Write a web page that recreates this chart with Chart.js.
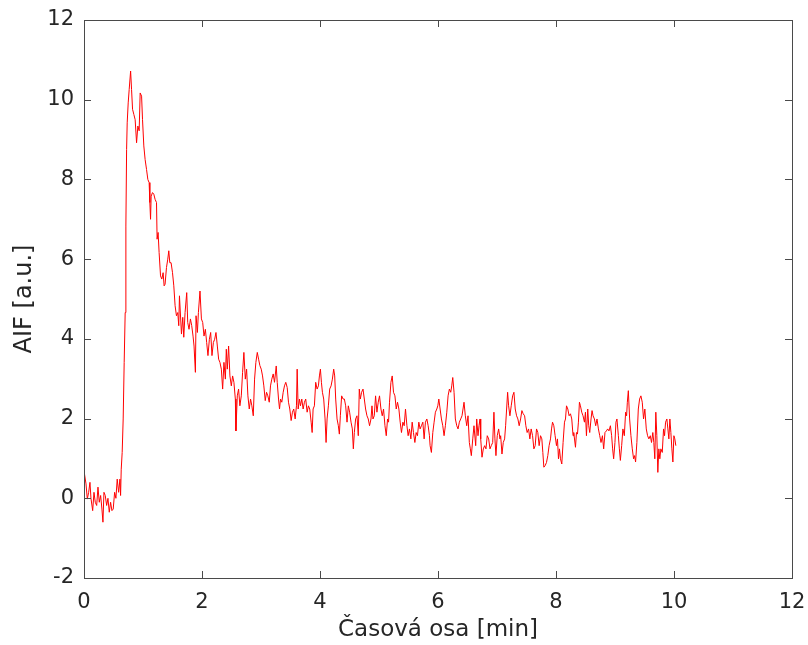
<!DOCTYPE html>
<html>
<head>
<meta charset="utf-8">
<script src="https://cdn.jsdelivr.net/npm/chart.js@4/dist/chart.umd.min.js"></script>
<style>
  body { margin: 0; background: #fff; }
  canvas { display: block; }
</style>
</head>
<body>
<canvas id="mycanvas" width="808" height="645"></canvas>
<script>
// casova osa [min]
var timeMin = [
  0.000,0.034,0.056,0.079,0.101,0.118,0.147,0.169,0.191,0.215,0.237,0.259,0.282,0.304,0.321,0.338,0.360,0.384,0.406,0.428,
  0.451,0.473,0.495,0.519,0.541,0.563,0.587,0.609,0.620,0.631,0.647,0.664,0.681,0.698,0.710,0.722,0.732,0.749,0.766,0.790,
  0.806,0.823,0.845,0.867,0.891,0.913,0.935,0.952,0.976,0.992,1.014,1.036,1.060,1.082,1.104,1.116,1.128,1.138,1.161,1.183,
  1.205,1.229,1.239,1.256,1.273,1.297,1.319,1.341,1.358,1.374,1.398,1.420,1.437,1.454,1.476,1.500,1.522,1.544,1.567,1.589,
  1.606,1.618,1.652,1.674,1.691,1.713,1.741,1.758,1.780,1.804,1.826,1.848,1.865,1.888,1.899,1.922,1.939,1.966,1.990,2.012,
  2.034,2.057,2.079,2.101,2.125,2.147,2.169,2.193,2.215,2.237,2.260,2.282,2.304,2.328,2.350,2.372,2.396,2.412,2.429,2.451,
  2.473,2.497,2.519,2.541,2.565,2.575,2.598,2.620,2.642,2.666,2.688,2.710,2.734,2.756,2.778,2.801,2.823,2.845,2.869,2.891,
  2.913,2.937,2.959,2.981,3.004,3.026,3.048,3.072,3.094,3.116,3.140,3.161,3.183,3.207,3.229,3.258,3.275,3.297,3.314,3.331,
  3.353,3.376,3.398,3.420,3.444,3.466,3.488,3.511,3.533,3.555,3.579,3.601,3.613,3.630,3.652,3.669,3.691,3.714,3.736,3.758,
  3.782,3.804,3.826,3.850,3.867,3.883,3.905,3.927,3.951,3.973,3.990,4.007,4.024,4.041,4.063,4.086,4.103,4.120,4.142,4.164,
  4.188,4.210,4.232,4.249,4.266,4.289,4.311,4.328,4.345,4.367,4.391,4.413,4.435,4.458,4.480,4.502,4.526,4.548,4.565,4.582,
  4.604,4.627,4.649,4.666,4.683,4.705,4.729,4.751,4.773,4.796,4.818,4.840,4.864,4.881,4.898,4.920,4.942,4.965,4.987,5.009,
  5.033,5.055,5.077,5.101,5.123,5.145,5.162,5.178,5.202,5.224,5.246,5.270,5.292,5.314,5.337,5.359,5.381,5.405,5.427,5.449,
  5.473,5.494,5.516,5.540,5.562,5.584,5.608,5.630,5.652,5.675,5.697,5.719,5.743,5.765,5.787,5.811,5.833,5.855,5.866,5.888,
  5.912,5.934,5.956,5.980,5.997,6.014,6.036,6.058,6.081,6.103,6.125,6.149,6.171,6.193,6.216,6.233,6.250,6.272,6.294,6.318,
  6.340,6.362,6.385,6.407,6.424,6.441,6.463,6.487,6.509,6.531,6.548,6.565,6.589,6.610,6.639,6.656,6.678,6.695,6.712,6.724,
  6.746,6.768,6.791,6.813,6.835,6.859,6.881,6.903,6.927,6.948,6.965,6.982,7.004,7.028,7.050,7.062,7.084,7.106,7.129,7.146,
  7.163,7.180,7.197,7.219,7.241,7.265,7.287,7.309,7.332,7.354,7.376,7.400,7.422,7.444,7.468,7.489,7.511,7.535,7.557,7.579,
  7.603,7.625,7.647,7.670,7.692,7.714,7.738,7.760,7.777,7.794,7.816,7.839,7.861,7.883,7.907,7.924,7.941,7.963,7.985,8.008,
  8.025,8.042,8.059,8.076,8.098,8.120,8.144,8.161,8.178,8.200,8.222,8.245,8.267,8.289,8.301,8.330,8.347,8.364,8.380,8.397,
  8.414,8.436,8.458,8.482,8.499,8.516,8.538,8.555,8.572,8.594,8.611,8.628,8.651,8.673,8.695,8.719,8.741,8.763,8.787,8.808,
  8.830,8.854,8.876,8.898,8.922,8.943,8.960,8.977,8.999,9.016,9.033,9.057,9.074,9.091,9.113,9.134,9.158,9.180,9.197,9.209,
  9.226,9.248,9.270,9.293,9.315,9.332,9.349,9.371,9.395,9.417,9.439,9.462,9.484,9.506,9.530,9.552,9.574,9.598,9.619,9.641,
  9.658,9.675,9.692,9.709,9.726,9.743,9.760,9.777,9.801,9.823,9.840,9.857,9.879,9.896,9.913,9.930,9.947,9.964,9.981,9.998,
  10.014,10.031
];
// AIF [a.u.]
var aif = [
  0.69,0.36,-0.02,0.15,0.40,0.00,-0.31,0.15,-0.10,-0.18,0.28,-0.10,0.07,-0.27,-0.60,0.15,0.07,-0.18,0.00,-0.35,
  -0.10,-0.31,-0.27,0.15,0.00,0.48,0.15,0.48,0.07,0.73,1.15,1.99,3.41,4.66,6.83,8.75,9.42,9.92,10.26,10.72,
  10.26,9.76,9.63,9.50,8.92,9.34,9.22,10.17,10.09,9.50,8.84,8.50,8.25,8.00,7.92,7.42,7.00,7.58,7.67,7.63,
  7.50,7.42,6.50,6.67,6.17,5.58,5.50,5.66,5.33,5.37,5.79,6.00,6.21,5.91,5.91,5.66,5.33,4.83,4.58,4.66,
  4.33,5.08,4.12,4.54,4.04,4.66,5.16,4.41,4.24,4.50,4.33,4.07,3.82,3.16,4.58,4.16,4.66,5.20,4.50,4.41,
  4.07,4.24,3.91,3.58,3.99,4.16,3.58,3.91,3.99,4.16,3.82,3.49,3.41,3.24,2.74,3.41,2.99,3.74,3.24,3.82,
  3.07,2.82,3.07,2.91,2.49,1.69,2.57,2.74,2.32,2.57,3.16,3.66,2.99,3.24,2.57,2.24,2.49,2.32,2.07,2.99,
  3.41,3.66,3.49,3.33,3.24,3.07,2.82,2.45,2.66,2.57,2.41,2.82,2.99,3.12,2.91,3.32,2.91,2.49,2.24,2.49,
  2.41,2.66,2.82,2.91,2.78,2.41,2.24,1.95,2.16,2.24,1.99,2.32,3.24,2.24,2.49,2.32,2.49,2.24,2.41,2.49,
  2.16,2.32,2.24,1.91,1.65,2.24,2.32,2.91,2.74,2.82,3.07,3.24,2.91,2.66,2.49,1.99,1.40,1.99,2.32,2.74,
  2.82,2.99,3.24,3.07,2.49,1.99,1.82,1.61,2.07,2.57,2.49,2.49,2.32,1.91,2.32,2.16,1.91,1.74,1.24,1.65,
  1.99,2.07,1.57,2.74,2.49,2.66,2.74,2.49,2.24,2.07,1.99,1.82,1.99,2.32,1.99,2.07,2.57,2.16,2.41,2.57,
  2.24,2.07,2.24,1.82,1.57,1.99,1.91,2.41,2.91,3.07,2.66,2.57,2.24,2.41,2.24,1.91,1.65,1.91,1.82,2.24,
  1.82,1.57,1.74,1.49,1.91,1.65,1.40,1.65,1.57,1.91,1.74,1.82,1.91,1.49,1.91,1.99,1.82,1.57,1.32,1.15,
  1.65,1.91,2.16,2.24,2.32,2.49,2.24,1.99,1.82,1.57,1.82,2.16,2.57,2.74,2.66,2.82,3.03,2.66,1.99,1.82,
  1.74,1.91,1.99,2.07,2.24,2.41,2.07,1.82,2.07,1.40,1.24,1.07,1.49,1.82,1.32,1.99,1.57,1.82,1.99,1.49,
  1.03,1.24,1.32,1.24,1.57,1.49,1.24,1.32,1.40,2.16,1.49,1.07,1.57,1.74,1.49,1.57,1.11,1.40,1.49,1.82,
  2.24,2.66,2.32,2.07,2.32,2.57,2.66,2.24,2.07,1.99,1.82,1.99,2.20,2.12,2.07,1.82,1.65,1.74,1.49,1.74,
  1.57,1.24,1.32,1.74,1.65,1.32,1.57,1.49,1.15,0.78,0.82,0.90,1.07,1.32,1.49,1.74,1.91,1.82,1.57,1.32,
  1.49,0.99,1.24,0.99,0.86,1.40,1.91,1.99,2.32,2.24,2.07,2.12,1.99,1.57,1.65,1.28,1.65,1.61,1.91,2.41,
  2.32,2.16,2.07,1.91,2.16,1.57,2.24,1.82,1.65,1.99,2.20,2.07,1.99,1.82,1.99,1.74,1.57,1.40,1.57,1.24,
  1.65,1.69,1.74,1.69,1.82,1.57,1.24,0.99,1.40,1.91,1.99,1.57,1.24,0.95,1.32,1.74,1.57,2.16,2.07,2.41,
  2.70,1.99,1.57,1.24,0.99,1.07,0.91,1.40,2.24,2.49,2.57,2.41,1.99,2.24,1.74,1.57,1.49,1.57,1.40,1.65,
  1.40,0.99,2.16,1.57,0.65,1.24,0.99,1.24,1.15,1.74,1.57,1.91,1.99,1.74,1.49,1.99,1.65,1.24,0.91,1.57,
  1.49,1.32,1.36
];
var xRange = [0, 12];
var yRange = [-2, 12];
var tickStep = 2;
var xTitle = 'Časová osa [min]';
var yTitle = 'AIF [a.u.]';

var points = [];
for (var i in timeMin) {
  points.push({x: timeMin[i], y: aif[i]});
}

var axisColor = '#262626';
var fontFace = "'DejaVu Sans', sans-serif";

// matlab style box with ticks pointing inwards
var boxPlugin = {
  id: 'box',
  afterDatasetsDraw: function(chart) {
    var ctx = chart.ctx;
    var a = chart.chartArea;
    var xs = chart.scales.x, ys = chart.scales.y;
    var tl = 7;
    ctx.save();
    ctx.strokeStyle = '#4a4a4a';
    ctx.lineWidth = 1;
    ctx.beginPath();
    xs.ticks.forEach(function(t) {
      var px = Math.round(xs.getPixelForValue(t.value)) + 0.5;
      ctx.moveTo(px, a.bottom); ctx.lineTo(px, a.bottom - tl);
      ctx.moveTo(px, a.top); ctx.lineTo(px, a.top + tl);
    });
    ys.ticks.forEach(function(t) {
      var py = Math.round(ys.getPixelForValue(t.value)) + 0.5;
      ctx.moveTo(a.left, py); ctx.lineTo(a.left + tl, py);
      ctx.moveTo(a.right, py); ctx.lineTo(a.right - tl, py);
    });
    ctx.stroke();
    ctx.strokeRect(Math.round(a.left) + 0.5, Math.round(a.top) + 0.5,
      Math.round(a.right - a.left), Math.round(a.bottom - a.top));
    ctx.restore();
  }
};

var ctx = document.getElementById('mycanvas');
var aifChart = new Chart(ctx, {
  type: 'line',
  data: {
    datasets: [{
      label: 'AIF',
      data: points,
      borderColor: '#ff0000',
      borderWidth: 1,
      pointRadius: 0,
      fill: false,
      tension: 0
    }]
  },
  options: {
    responsive: false,
    animation: false,
    layout: {padding: {top: 20, right: 16, left: 0, bottom: 0}},
    plugins: {legend: {display: false}, tooltip: {enabled: false}},
    scales: {
      x: {
        type: 'linear',
        min: xRange[0], max: xRange[1],
        afterFit: function(s) { s.height = 67; s.paddingLeft = 0; s.paddingRight = 0; },
        grid: {display: false, drawTicks: false},
        border: {display: false},
        ticks: {stepSize: tickStep, padding: 12, color: axisColor, font: {family: fontFace, size: 21}},
        title: {display: true, text: xTitle, color: axisColor, font: {family: fontFace, size: 23}, padding: {top: 0, bottom: 1}}
      },
      y: {
        min: yRange[0], max: yRange[1],
        afterFit: function(s) { s.width = 84; s.paddingTop = 0; s.paddingBottom = 0; },
        grid: {display: false, drawTicks: false},
        border: {display: false},
        ticks: {stepSize: tickStep, padding: 10, color: axisColor, font: {family: fontFace, size: 21}},
        title: {display: true, text: yTitle, color: axisColor, font: {family: fontFace, size: 24}, padding: {top: 10, bottom: 0}}
      }
    }
  },
  plugins: [boxPlugin]
});
</script>
</body>
</html>
